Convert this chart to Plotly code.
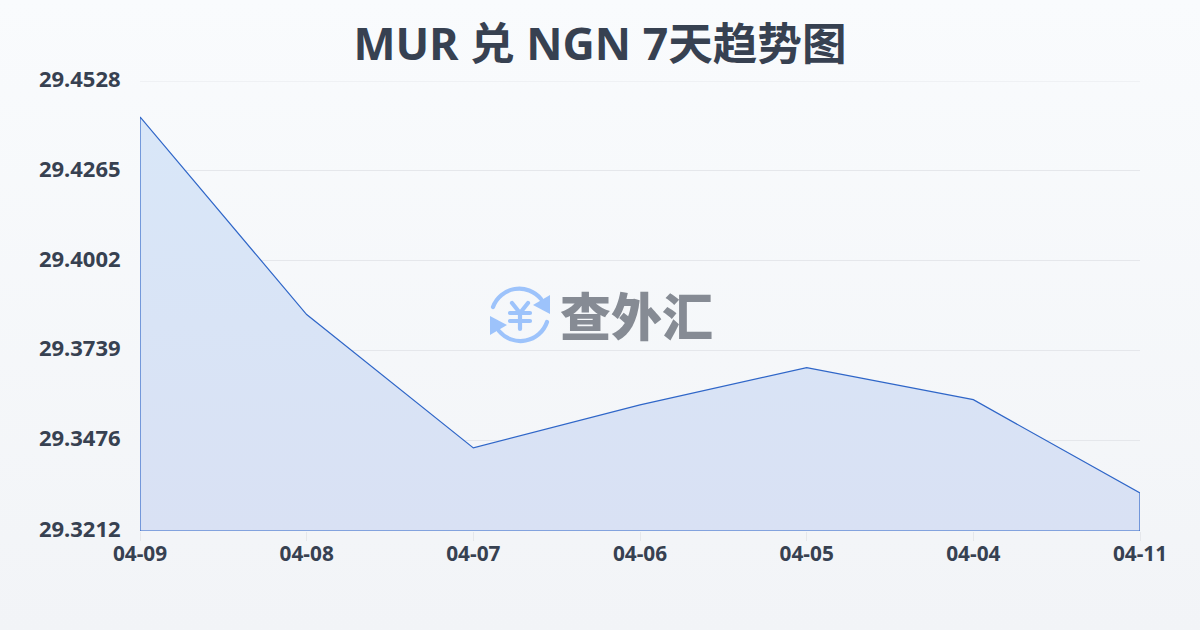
import base64
import plotly.graph_objects as go

TITLE = "MUR 兑 NGN 7天趋势图"
WATERMARK = "查外汇"
dates = ["04-09", "04-08", "04-07", "04-06", "04-05", "04-04", "04-11"]
rates = [29.4423, 29.3845, 29.3455, 29.3581, 29.3690, 29.3596, 29.3323]
y_ticks = [29.3212, 29.3476, 29.3739, 29.4002, 29.4265, 29.4528]
y_labels = ["29.3212", "29.3476", "29.3739", "29.4002", "29.4265", "29.4528"]
y_min, y_max = 29.3212, 29.4528

INK = "#374151"
FONT = "Noto Sans, Noto Sans CJK SC"
W, H, L, R, T, B = 1200, 630, 140, 60, 81, 99
PW, PH = W - L - R, H - T - B


def svg_uri(svg):
    return "data:image/svg+xml;base64," + base64.b64encode(svg.encode()).decode()


bg_svg = ('<svg xmlns="http://www.w3.org/2000/svg" width="1200" height="630">'
          '<defs><linearGradient id="g" x1="0" y1="0" x2="0" y2="1">'
          '<stop offset="0" stop-color="#f9fbfd"/><stop offset="1" stop-color="#f2f4f7"/>'
          '</linearGradient></defs><rect width="1200" height="630" fill="url(#g)"/></svg>')

icon_svg = ('<svg xmlns="http://www.w3.org/2000/svg" viewBox="0 0 64 64" width="64" height="64">'
            '<g fill="none" stroke="#9dc3fb" stroke-width="4.2" stroke-linecap="round" stroke-linejoin="round">'
            '<path d="M5 24 A28 28 0 0 1 53 16"/><path d="M59 39 A28 28 0 0 1 11 48"/>'
            '<path d="M24 20 L32 30 L40 20 M22 30 H42 M22 38 H42 M32 30 V46"/></g>'
            '<path d="M62 12 L62 31 L45 22 Z" fill="#9dc3fb"/><path d="M2 33 L2 52 L19 42 Z" fill="#9dc3fb"/></svg>')

fig = go.Figure()
fig.add_trace(go.Scatter(
    x=dates + [dates[-1], dates[0], dates[0]],
    y=rates + [y_min, y_min, rates[0]],
    mode="lines",
    line=dict(color="#2f66c8", width=1.2),
    fill="toself",
    fillgradient=dict(type="vertical",
                      colorscale=[[0, "#d9e1f4"], [1, "#d9e7f8"]]),
    hoverinfo="skip",
    cliponaxis=False,
    showlegend=False,
))

fig.update_layout(
    width=W, height=H,
    margin=dict(l=L, r=R, t=T, b=B, pad=0),
    paper_bgcolor="#f5f7fa",
    plot_bgcolor="rgba(0,0,0,0)",
    showlegend=False,
    title=dict(text=f"<b>{TITLE}</b>", x=0.5, xanchor="center", y=0.929, yanchor="middle",
               font=dict(family=FONT, size=44.6, color=INK)),
    xaxis=dict(type="category", categoryorder="array", categoryarray=dates,
               range=[0, len(dates) - 1], showgrid=False, zeroline=False,
               showline=False, ticks="outside", ticklen=9, tickwidth=1,
               tickcolor="#e5e7eb", ticklabelstandoff=-5,
               tickfont=dict(family=FONT, size=20.8, color=INK, weight="bold")),
    yaxis=dict(range=[y_min, y_max], tickmode="array", tickvals=y_ticks, ticktext=y_labels,
               showgrid=True, gridcolor="#e5e7eb", gridwidth=1, zeroline=False, showline=False,
               ticks="outside", ticklen=14, tickwidth=1, tickcolor="rgba(0,0,0,0)",
               ticklabelshift=-2,
               tickfont=dict(family=FONT, size=22, color=INK, weight="bold")),
    shapes=[dict(type="line", xref="paper", x0=0, x1=1, yref="y", y0=y_max, y1=y_max,
                 line=dict(color="#e5e7eb", width=1), layer="below")],
    images=[
        dict(source=svg_uri(bg_svg), xref="paper", yref="paper", x=-L / PW, y=1 + T / PH,
             sizex=W / PW, sizey=H / PH, sizing="stretch", xanchor="left", yanchor="top", layer="below"),
        dict(source=svg_uri(icon_svg), xref="paper", yref="paper", x=(488 - L) / PW, y=1 - (283 - T) / PH,
             sizex=64 / PW, sizey=64 / PH, sizing="stretch", xanchor="left", yanchor="top", layer="above"),
    ],
    annotations=[dict(text=WATERMARK, xref="paper", yref="paper",
                      x=(636 - L) / PW, y=1 - (314 - T) / PH, xanchor="center", yanchor="middle",
                      showarrow=False, font=dict(family="Noto Sans CJK SC", size=51, color="#868b94", weight=900))],
)

fig.write_html("out.html", config={"displayModeBar": False},
               post_script="document.body.style.margin='0';document.body.style.overflow='hidden';")
